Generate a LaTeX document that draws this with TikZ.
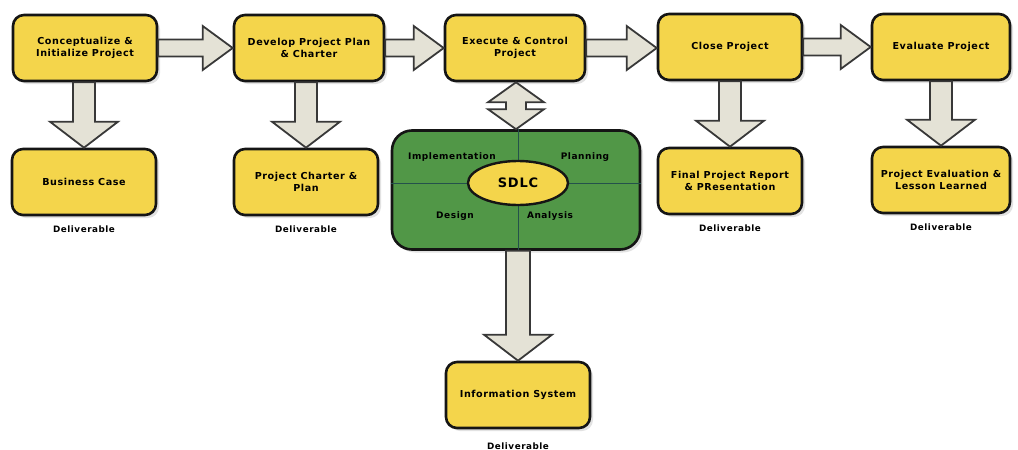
\documentclass[tikz,border=0pt]{standalone}
\usepackage{fontspec}
\setmainfont{DejaVu Sans}[LetterSpace=6]
\usetikzlibrary{positioning,calc,shadows,shapes.geometric}
\definecolor{ink}{HTML}{151515}
\definecolor{butter}{HTML}{F4D54B}
\definecolor{moss}{HTML}{519747}
\definecolor{putty}{HTML}{E4E2D6}
\definecolor{seam}{HTML}{24514B}
\tikzset{phase/.style={draw=ink,line width=2.6pt,fill=butter,rounded corners=11pt,
  minimum width=144pt,minimum height=66pt,align=center,inner sep=2pt,
  font=\bfseries\fontsize{9.6}{12.5}\selectfont,
  drop shadow={shadow xshift=3pt,shadow yshift=-3pt,fill=gray!50,opacity=.45}},
  deliv/.style={font=\bfseries\fontsize{8.8}{10}\selectfont},
  quad/.style={font=\bfseries\fontsize{9}{10}\selectfont},
  sdlcbox/.style={draw=ink,line width=2.6pt,fill=moss,rounded corners=20pt,
  minimum width=248pt,minimum height=119pt,
  drop shadow={shadow xshift=3pt,shadow yshift=-3pt,fill=gray!50,opacity=.45}},
  hub/.style={ellipse,draw=ink,line width=2.4pt,fill=butter,minimum width=100pt,
  minimum height=44pt,font=\bfseries\fontsize{13}{15}\selectfont},
  fat/.style={draw=ink!85,line width=1.8pt,fill=putty,line join=miter}}
% block arrows between nodes
\newcommand{\rarrow}[2]{%
\filldraw[fat] let \p1=(#1.east),\p2=(#2.west) in
 (\x1,\y1+8.5pt)--(\x2-30pt,\y1+8.5pt)--(\x2-30pt,\y1+22pt)--(\x2,\y1)
 --(\x2-30pt,\y1-22pt)--(\x2-30pt,\y1-8.5pt)--(\x1,\y1-8.5pt)--cycle;}
\newcommand{\darrow}[3]{%
\filldraw[fat] let \p1=(#1.south),\p2=(#2.north) in
 (\x2-#3,\y1)--(\x2-#3,\y2+26pt)--(\x2-34pt,\y2+26pt)--(\x2,\y2)
 --(\x2+34pt,\y2+26pt)--(\x2+#3,\y2+26pt)--(\x2+#3,\y1)--cycle;}
\newcommand{\duarrow}[2]{%
\filldraw[fat] let \p1=(#1.south),\p2=(#2.north) in
 (\x2,\y1)--(\x2+28pt,\y1-20pt)--(\x2+10pt,\y1-20pt)--(\x2+10pt,\y2+20pt)
 --(\x2+28pt,\y2+20pt)--(\x2,\y2)--(\x2-28pt,\y2+20pt)--(\x2-10pt,\y2+20pt)
 --(\x2-10pt,\y1-20pt)--(\x2-28pt,\y1-20pt)--cycle;}

\begin{document}
\begin{tikzpicture}[x=1pt,y=-1pt]
\useasboundingbox (0,0) rectangle (1018,450);
% top row
\node[phase] (init) at (85,48) {Conceptualize \&\\Initialize Project};
\node[phase,minimum width=150pt] (plan) at (309,48) {Develop Project Plan\\\& Charter};
\node[phase,minimum width=140pt] (exec) at (515,48) {Execute \& Control\\Project};
\node[phase] (close) at (730,47) {Close Project};
\node[phase,minimum width=138pt] (eval) at (941,47) {Evaluate Project};
% deliverables
\node[phase] (biz) at (84,182) {Business Case};
\node[phase] (charter) at (306,182) {Project Charter \&\\Plan};
\node[phase] (report) at (730,181) {Final Project Report\\\& PResentation};
\node[phase,minimum width=138pt] (lesson) at (941,180) {Project Evaluation \&\\Lesson Learned};
\node[phase] (info) at (518,395) {Information System};
\foreach \n in {biz,charter,report,lesson}{\node[deliv,below=6pt of \n] {Deliverable};}
\node[deliv,below=10pt of info] (infod) {Deliverable};
% sdlc block
\node[sdlcbox] (sdlc) at (516,190) {};
\coordinate (mid) at ($(sdlc.center)+(2,-7)$);
\draw[seam,line width=.8pt] (mid |- sdlc.north)--(mid |- sdlc.south);
\draw[seam,line width=.8pt] (sdlc.west |- mid)--(sdlc.east |- mid);
\node[hub] (core) at (mid) {SDLC};
\node[quad] (impl) at (452,157) {Implementation};
\node[quad] (plng) at (585,157) {Planning};
\node[quad] (dsgn) at (455,216) {Design};
\node[quad] (anls) at (550,216) {Analysis};
% arrows
\rarrow{init}{plan}
\rarrow{plan}{exec}
\rarrow{exec}{close}
\rarrow{close}{eval}
\darrow{init}{biz}{11pt}
\darrow{plan}{charter}{11pt}
\darrow{close}{report}{11pt}
\darrow{eval}{lesson}{11pt}
\darrow{sdlc}{info}{12pt}
\duarrow{exec}{sdlc}
\end{tikzpicture}
\end{document}
